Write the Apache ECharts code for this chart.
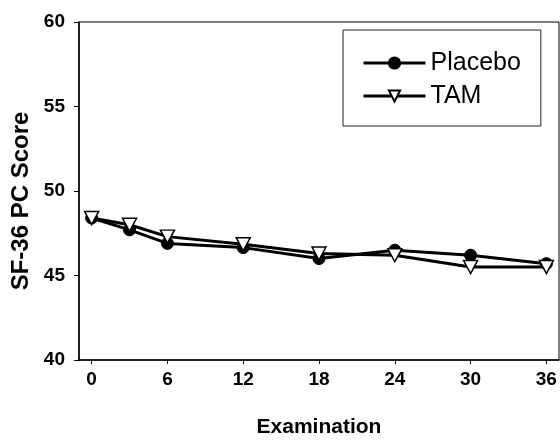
<!DOCTYPE html>
<html>
<head>
<meta charset="utf-8">
<script src="https://cdn.jsdelivr.net/npm/echarts@6/dist/echarts.min.js"></script>
<style>html,body{margin:0;padding:0;background:#fff;}#c{width:560px;height:443px;}</style>
</head>
<body>
<div id="c"></div>
<script>
var examinations = [0, 3, 6, 12, 18, 24, 30, 36];
var placebo = [48.4, 47.7, 46.9, 46.65, 46.0, 46.5, 46.2, 45.7];
var tam = [48.4, 48.0, 47.3, 46.85, 46.3, 46.2, 45.5, 45.5];
var xTicks = [0, 6, 12, 18, 24, 30, 36];
var yTicks = [40, 45, 50, 55, 60];

var FONT = "'Liberation Sans', Arial, sans-serif";
function pairs(xs, ys) { return xs.map(function (x, i) { return [x, ys[i]]; }); }

var chart = echarts.init(document.getElementById('c'), null, {renderer: 'canvas'});
chart.setOption({
  animation: false,
  backgroundColor: '#fff',
  grid: {left: 79, right: 1, top: 22, bottom: 83, show: true, borderColor: '#000', borderWidth: 1, backgroundColor: 'transparent'},
  xAxis: {
    type: 'value', min: -1, max: 37,
    name: 'Examination', nameLocation: 'middle', nameGap: 57,
    nameTextStyle: {fontFamily: FONT, fontWeight: 'bold', fontSize: 21, color: '#000'},
    axisLine: {show: true, onZero: false, lineStyle: {color: '#000', width: 1.5}},
    axisTick: {show: true, length: 4, customValues: xTicks, lineStyle: {color: '#000'}},
    axisLabel: {customValues: xTicks, margin: 10, fontFamily: FONT, fontWeight: 'bold', fontSize: 19, color: '#000'},
    splitLine: {show: false}
  },
  yAxis: {
    type: 'value', min: 40, max: 60, interval: 5,
    name: 'SF-36 PC Score', nameLocation: 'middle', nameGap: 45, nameRotate: 90,
    nameTextStyle: {fontFamily: FONT, fontWeight: 'bold', fontSize: 24, color: '#000', padding: [0, 20, 0, 0]},
    axisLine: {show: true, onZero: false, lineStyle: {color: '#000', width: 1.5}},
    axisTick: {show: true, length: 5, lineStyle: {color: '#000'}},
    axisLabel: {margin: 14, fontFamily: FONT, fontWeight: 'bold', fontSize: 19, color: '#000', customValues: yTicks},
    splitLine: {show: false}
  },
  legend: {
    orient: 'vertical', left: 343, top: 30,
    padding: [20, 20, 17, 19], itemGap: 7,
    itemWidth: 62, itemHeight: 14,
    borderColor: '#222', borderWidth: 1,
    lineStyle: {width: 3, color: '#000'},
    textStyle: {fontFamily: FONT, fontSize: 25, color: '#000', lineHeight: 26, padding: [0, 0, 0, 0]},
    data: ['Placebo', 'TAM']
  },
  series: [
    {
      name: 'Placebo', type: 'line', data: pairs(examinations, placebo),
      symbol: 'circle', symbolSize: 12,
      lineStyle: {color: '#000', width: 3},
      itemStyle: {color: '#000', borderColor: '#000', borderWidth: 1}
    },
    {
      name: 'TAM', type: 'line', data: pairs(examinations, tam),
      symbol: 'triangle', symbolSize: [14, 13], symbolRotate: 180,
      lineStyle: {color: '#000', width: 3},
      itemStyle: {color: '#fff', borderColor: '#000', borderWidth: 1.5}
    }
  ]
});
</script>
</body>
</html>
